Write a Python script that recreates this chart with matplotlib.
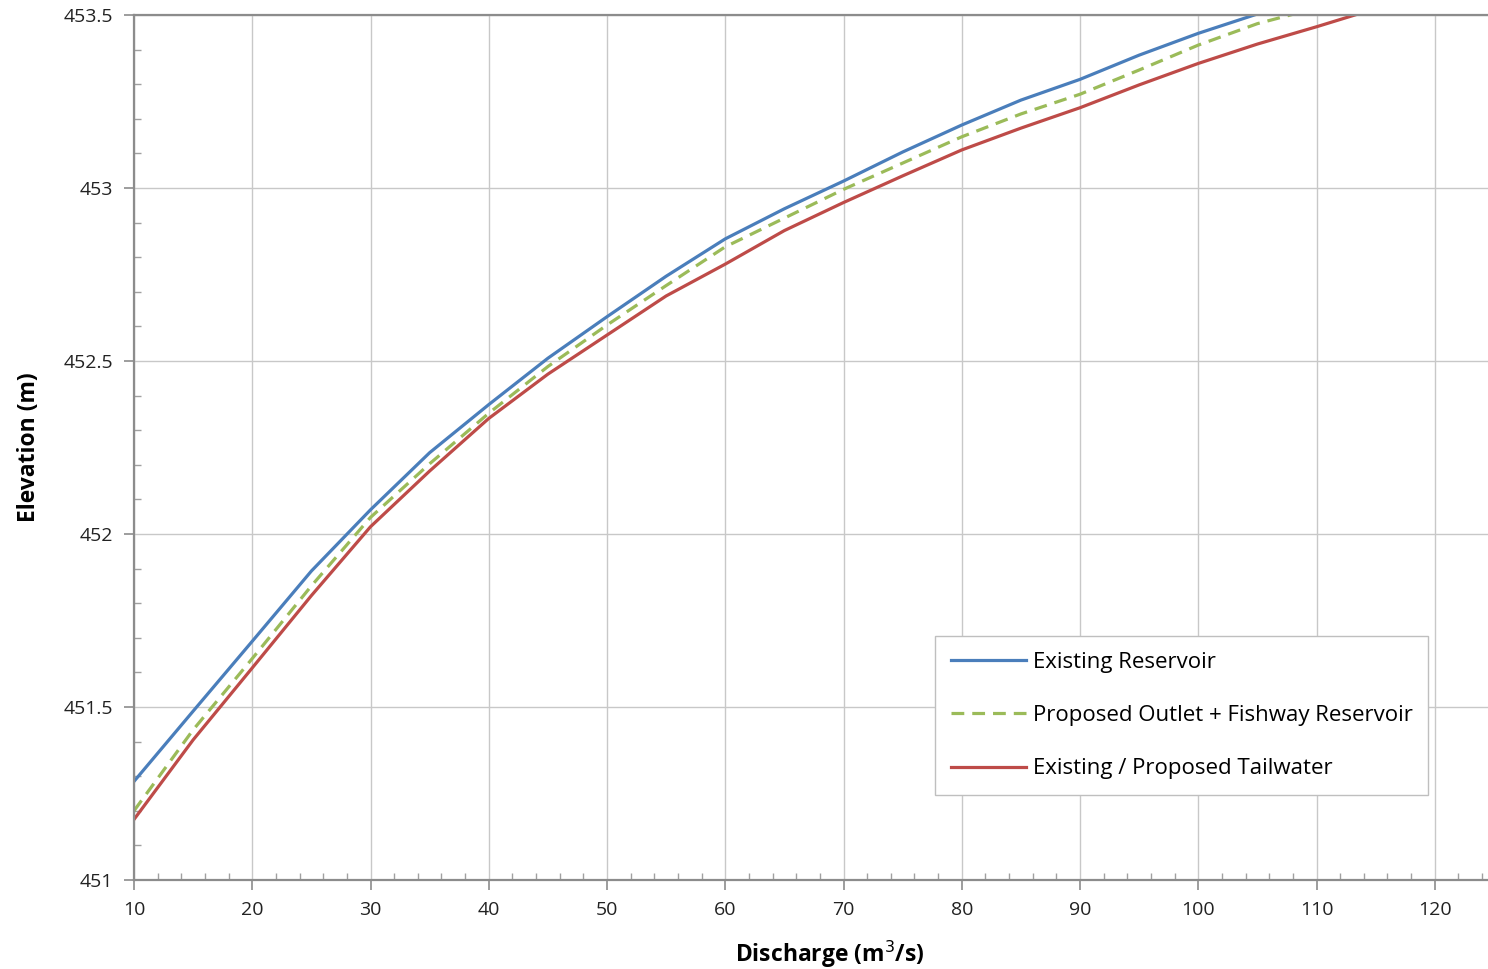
import numpy as np
import matplotlib
matplotlib.use("Agg")
import matplotlib.pyplot as plt
from matplotlib.ticker import MultipleLocator, FuncFormatter

# discharge (m3/s) and elevation (m)
q_exist_res = [10, 15, 20, 25, 30, 35, 40, 45, 50, 55, 60, 65, 70, 75, 80, 85, 90, 95, 100, 105]
h_exist_res = [451.285, 451.488, 451.690, 451.893, 452.070, 452.235, 452.374, 452.508, 452.628, 452.745,
               452.853, 452.940, 453.020, 453.104, 453.182, 453.254, 453.314, 453.384, 453.447, 453.503]

q_prop_res = [10, 15, 20, 25, 30, 35, 40, 45, 50, 55, 60, 65, 70, 75, 80, 85, 90, 95, 100, 105, 108]
h_prop_res = [451.200, 451.434, 451.640, 451.850, 452.048, 452.203, 452.349, 452.484, 452.604, 452.718,
              452.830, 452.913, 452.996, 453.072, 453.148, 453.214, 453.271, 453.341, 453.413, 453.475, 453.502]

q_tail = [10, 15, 20, 25, 30, 35, 40, 45, 50, 55, 60, 65, 70, 75, 80, 85, 90, 95, 100, 105, 110, 114]
h_tail = [451.175, 451.405, 451.613, 451.822, 452.021, 452.182, 452.334, 452.462, 452.575, 452.688,
          452.780, 452.877, 452.958, 453.035, 453.110, 453.173, 453.232, 453.298, 453.360, 453.416, 453.466, 453.508]

labels = ["Existing Reservoir", "Proposed Outlet + Fishway Reservoir", "Existing / Proposed Tailwater"]

plt.rcParams['font.family'] = ['Open Sans', 'DejaVu Sans']

fig = plt.figure(figsize=(14.88, 9.69), dpi=100)
ax = fig.add_axes([134 / 1488, 89 / 969, 1354 / 1488, 865 / 969])

ax.plot(q_exist_res, h_exist_res, color='#4A7EBB', lw=2.3, label=labels[0])
ax.plot(q_prop_res, h_prop_res, color='#9BBB59', lw=2.3, ls=(0, (4, 2.5)), label=labels[1])
ax.plot(q_tail, h_tail, color='#BE4B48', lw=2.3, label=labels[2])

ax.set_xlim(10, 124.5)
ax.set_ylim(451, 453.5)
ax.xaxis.set_major_locator(MultipleLocator(10))
ax.xaxis.set_minor_locator(MultipleLocator(2))
ax.yaxis.set_major_locator(MultipleLocator(0.5))
ax.yaxis.set_minor_locator(MultipleLocator(0.1))
ax.yaxis.set_major_formatter(FuncFormatter(lambda v, p: f"{v:g}"))

ax.grid(which='major', color='#C8C8C8', lw=1)
ax.set_axisbelow(True)
for s in ['left', 'bottom', 'top']:
    ax.spines[s].set_color('#8C8C8C')
    ax.spines[s].set_linewidth(1.6)
ax.spines['right'].set_visible(False)

ax.tick_params(which='major', direction='out', length=7, width=1.2, color='#8C8C8C',
               labelsize=14, labelcolor='#222222', pad=8)
ax.tick_params(which='minor', direction='in', length=5, width=1, color='#A0A0A0')

ax.set_xlabel("Discharge (m$^3$/s)", fontsize=16.5, fontweight='bold')
ax.set_ylabel("Elevation (m)", fontsize=16.5, fontweight='bold')
ax.xaxis.set_label_coords(0.514, -0.068)
ax.yaxis.set_label_coords(-0.0687, 0.5)

leg = ax.legend(loc='lower left', bbox_to_anchor=(0.5916, 0.0983), fontsize=16,
                fancybox=False, framealpha=1, edgecolor='#BFBFBF', handlelength=3.4,
                handletextpad=0.3, labelspacing=1.45, borderpad=0.7, borderaxespad=0)
leg.get_frame().set_linewidth(1)

fig.savefig("out.png", dpi=100)
